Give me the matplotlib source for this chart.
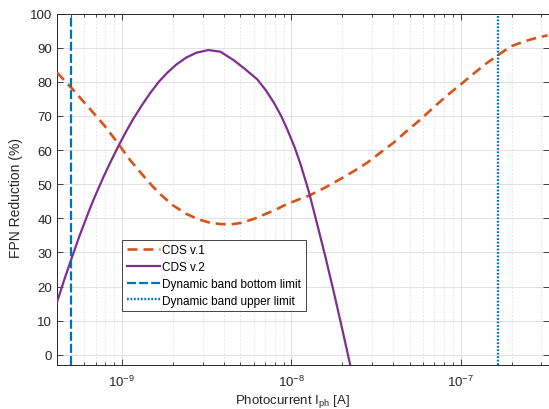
import numpy as np
import matplotlib.pyplot as plt
from matplotlib.ticker import MultipleLocator, NullFormatter, FixedLocator

plt.rcParams['font.family'] = ['Liberation Sans', 'DejaVu Sans']
plt.rcParams['mathtext.fontset'] = 'custom'
plt.rcParams['mathtext.rm'] = 'Liberation Sans'
plt.rcParams['mathtext.it'] = 'Liberation Sans:italic'
plt.rcParams['lines.scale_dashes'] = False

# photocurrent [A] vs FPN reduction [%]
i_cds1 = [4.14e-10, 5.08e-10, 6.52e-10, 7.94e-10, 9.57e-10, 1.12e-9, 1.32e-9,
          1.51e-9, 1.69e-9, 2.00e-9, 2.40e-9, 2.82e-9, 3.31e-9, 3.82e-9,
          4.38e-9, 5.01e-9, 6.01e-9, 7.08e-9, 8.32e-9, 9.46e-9, 1.12e-8,
          1.27e-8, 1.585e-8, 1.95e-8, 2.34e-8, 2.81e-8, 3.37e-8, 3.98e-8,
          4.79e-8, 5.81e-8, 6.92e-8, 8.32e-8, 1.0e-7, 1.20e-7, 1.41e-7,
          1.65e-7, 1.98e-7, 2.40e-7, 2.82e-7, 3.26e-7]
fpn_cds1 = [82.7, 78.0, 71.9, 67.0, 61.7, 57.0, 52.8,
            49.5, 47.0, 43.8, 41.3, 39.7, 38.7, 38.3,
            38.2, 38.6, 39.8, 41.3, 42.8, 44.2, 45.6,
            46.6, 49.0, 51.5, 53.8, 56.3, 59.3, 62.0,
            65.5, 69.0, 72.5, 76.0, 79.2, 82.5, 85.3,
            87.7, 90.4, 91.9, 92.9, 93.6]

i_cds2 = [4.14e-10, 4.57e-10, 4.97e-10, 5.62e-10, 6.31e-10, 6.81e-10, 7.80e-10,
          8.71e-10, 9.57e-10, 1.07e-9, 1.17e-9, 1.32e-9, 1.47e-9, 1.66e-9,
          1.85e-9, 2.09e-9, 2.40e-9, 2.75e-9, 3.24e-9, 3.82e-9, 4.58e-9,
          5.37e-9, 6.30e-9, 7.08e-9, 7.89e-9, 8.71e-9, 9.46e-9, 1.047e-8,
          1.135e-8, 1.27e-8, 1.41e-8, 1.585e-8, 1.78e-8, 2.00e-8, 2.24e-8]
fpn_cds2 = [15.4, 22.0, 27.3, 34.8, 41.4, 45.5, 52.2,
            57.2, 61.3, 65.8, 69.2, 73.3, 76.7, 80.1,
            82.6, 85.0, 87.1, 88.5, 89.3, 88.8, 86.3,
            83.6, 80.7, 77.5, 73.9, 70.0, 66.1, 60.8,
            55.8, 47.8, 39.0, 29.0, 18.5, 7.5, -3.5]

# dynamic band limits [A]
i_band_low = 5.0e-10
i_band_high = 1.65e-7

c_orange = '#D95319'
c_purple = '#7E2F8E'
c_blue = '#0072BD'
c_axis = '#262626'

fig = plt.figure(figsize=(5.49, 4.10), dpi=100)
ax = fig.add_axes([0.1038, 0.1073, 0.8953, 0.8573])

ax.semilogx(i_cds1, fpn_cds1, color=c_orange, lw=1.9, ls=(0, (7.2, 4.3)),
            label='CDS v.1', zorder=3)
ax.semilogx(i_cds2, fpn_cds2, color=c_purple, lw=1.6, label='CDS v.2', zorder=3)
ax.axvline(i_band_low, color=c_blue, lw=1.6, ls=(0, (6.5, 2.2)),
           label='Dynamic band bottom limit', zorder=3)
ax.axvline(i_band_high, color=c_blue, lw=1.7, ls=(0, (1.3, 1.2)),
           label='Dynamic band upper limit', zorder=3)

ax.set_xlim(4.14e-10, 3.3e-7)
ax.set_ylim(-3, 100)
ax.xaxis.set_major_locator(FixedLocator([1e-9, 1e-8, 1e-7]))
ax.yaxis.set_major_locator(MultipleLocator(10))
ax.xaxis.set_minor_formatter(NullFormatter())

ax.grid(True, which='major', color='#dcdcdc', lw=0.6, ls='-')
ax.grid(True, which='minor', axis='x', color='#dcdcdc', lw=0.6, ls=(0, (1, 1.5)))
ax.set_axisbelow(True)

for s in ax.spines.values():
    s.set_color(c_axis)
    s.set_linewidth(0.7)
ax.tick_params(which='both', direction='in', top=True, right=True,
               colors=c_axis, labelsize=9.5, width=0.6)
ax.tick_params(which='major', length=4)
ax.tick_params(which='minor', length=2.5)
ax.tick_params(axis='x', pad=6)

ax.set_ylabel('FPN Reduction (%)', fontsize=10, color=c_axis)
ax.yaxis.set_label_coords(-0.069, 0.477)
ax.set_xlabel('Photocurrent I$_{\\rm ph}$ [A]', fontsize=9.5, color=c_axis)
ax.xaxis.set_label_coords(0.479, -0.076)

leg = ax.legend(loc='lower left', bbox_to_anchor=(0.132, 0.153), borderaxespad=0,
                fontsize=8.5, handlelength=2.8, handletextpad=0.2,
                labelspacing=0.4, borderpad=0.4, fancybox=False, framealpha=1)
leg.get_frame().set_edgecolor(c_axis)
leg.get_frame().set_linewidth(0.6)

fig.savefig('out.png', dpi=100)
